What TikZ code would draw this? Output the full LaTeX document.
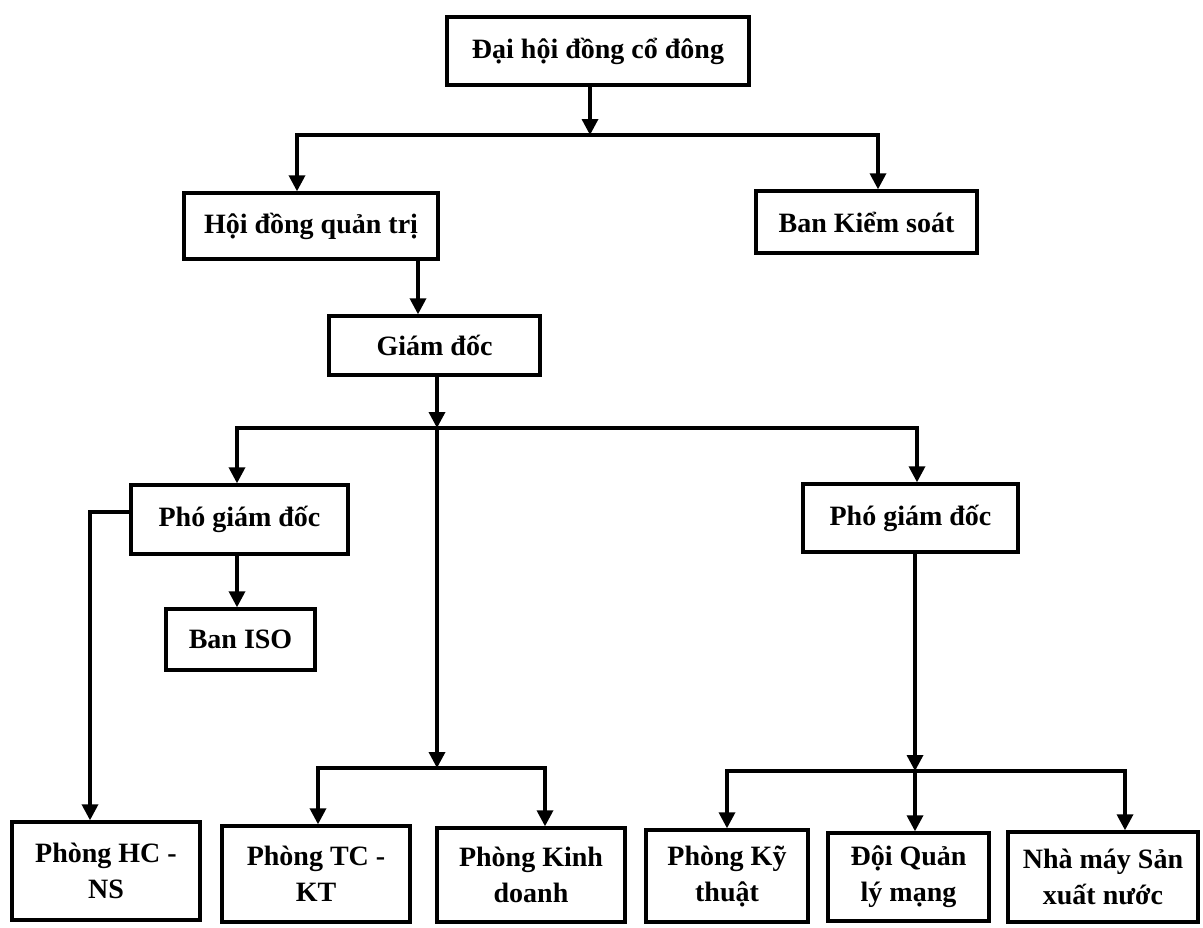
\documentclass[tikz,border=0pt]{standalone}
\usepackage{fontspec}
\setmainfont{Liberation Serif}
\usetikzlibrary{arrows.meta,calc}

\begin{document}
\begin{tikzpicture}[x=0.5pt,y=-0.5pt,
  box/.style={draw,line width=1.7pt,align=center,inner sep=2pt,
    font=\fontsize{14}{18}\selectfont\bfseries},
  arr/.style={line width=1.7pt,line join=miter,-{Triangle[width=8pt,length=8pt]}}]
\useasboundingbox[fill=white] (0,0) rectangle (1203,927);

\node[box,minimum width=151pt,minimum height=34pt] (dhcd) at (598,51) {Đại hội đồng cổ đông};
\node[box,minimum width=127pt,minimum height=33pt] (hdqt) at (311,226) {Hội đồng quản trị};
\node[box,minimum width=110.5pt,minimum height=31pt] (bks) at (866.5,222) {Ban Kiểm soát};
\node[box,minimum width=105.5pt,minimum height=29.5pt] (gd) at (434.5,345.5) {Giám đốc};
\node[box,minimum width=108.5pt,minimum height=34.5pt] (pgdA) at (239.5,519.5) {Phó giám đốc};
\node[box,minimum width=74.5pt,minimum height=30.5pt] (iso) at (240.5,639.5) {Ban ISO};
\node[box,minimum width=107.5pt,minimum height=34pt] (pgdB) at (910.5,518) {Phó giám đốc};

\node[box,minimum width=94pt,minimum height=49pt] (hcns) at (106,871) {Phòng HC -\\NS};
\node[box,minimum width=94pt,minimum height=48pt] (tckt) at (316,874) {Phòng TC -\\KT};
\node[box,minimum width=94pt,minimum height=47pt] (kd) at (531,875) {Phòng Kinh\\doanh};
\node[box,minimum width=81pt,minimum height=46pt] (kt) at (727,876) {Phòng Kỹ\\thuật};
\node[box,minimum width=80.5pt,minimum height=44pt] (dql) at (908.5,877) {Đội Quản\\lý mạng};
\node[box,minimum width=95pt,minimum height=45pt] (nm) at (1103,877) {Nhà máy Sản\\xuất nước};

\coordinate (jA) at (590,135);
\coordinate (lA) at (297,135);
\coordinate (rA) at (878,135);
\coordinate (jB) at (437,428);
\coordinate (rB) at (917,428);
\coordinate (jC) at (437,768);
\coordinate (rC) at (545,768);
\coordinate (jD) at (915,771);
\coordinate (rD) at (1125,771);
\coordinate (kA) at (90,512);

\draw[arr] (dhcd.south -| jA) -- (jA);
\draw[arr] (jA) -| (lA |- hdqt.north);
\draw[arr] (jA) -| (rA |- bks.north);
\draw[arr] (hdqt.south -| 418,0) -- (gd.north -| 418,0);

\draw[arr] (gd.south -| jB) -- (jB);
\draw[arr] (jB) -| (pgdA.north -| 237,0);
\draw[arr] (jB) -| (rB |- pgdB.north);
\draw[arr] (jB) -- (jC);
\draw[arr] (jC) -| (tckt.north -| 318,0);
\draw[arr] (jC) -| (rC |- kd.north);

\draw[arr] (pgdA.south -| 237,0) -- (iso.north -| 237,0);
\draw[arr] (pgdA.west |- kA) -- (kA) -- (kA |- hcns.north);

\draw[arr] (pgdB.south -| jD) -- (jD);
\draw[arr] (jD) -- (jD |- dql.north);
\draw[arr] (jD) -| (kt.north);
\draw[arr] (jD) -| (rD |- nm.north);
\end{tikzpicture}
\end{document}
